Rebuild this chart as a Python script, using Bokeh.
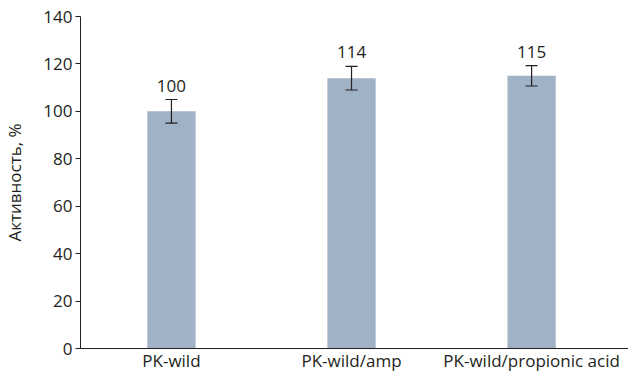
from bokeh.plotting import figure
from bokeh.models import ColumnDataSource, Whisker, FixedTicker, Range1d, TeeHead
from bokeh.core.properties import value
from bokeh.embed import file_html
from bokeh.resources import INLINE

categories = ["PK-wild", "PK-wild/amp", "PK-wild/propionic acid"]
activity = [100, 114, 115]
error = [5, 5, 4.3]
labels = ["100", "114", "115"]
y_ticks = [0, 20, 40, 60, 80, 100, 120, 140]

FONT = "Open Sans"
TXT = "#231f20"

xs = list(range(len(categories)))
src = ColumnDataSource(data=dict(
    x=xs,
    top=activity,
    upper=[a + e for a, e in zip(activity, error)],
    lower=[a - e for a, e in zip(activity, error)],
    label=labels,
))

p = figure(width=628, height=374, output_backend="svg", toolbar_location=None,
           x_range=Range1d(-0.505, 2.538), y_range=Range1d(0, 140),
           min_border_left=71, min_border_top=16, min_border_right=0, min_border_bottom=0)

p.vbar(x="x", top="top", width=0.268, bottom=0, source=src,
       fill_color="#a0b2c6", line_color=None)

w = Whisker(source=src, base="x", upper="upper", lower="lower",
            line_color="#231f20", line_width=1.2, level="overlay")
w.upper_head = TeeHead(size=12, line_color="#231f20", line_width=1.2)
w.lower_head = TeeHead(size=12, line_color="#231f20", line_width=1.2)
p.add_layout(w)

p.text(x="x", y="upper", text="label", source=src, text_align="center",
       text_baseline="bottom", y_offset=-8, text_font=value(FONT),
       text_font_size="17px", text_color=TXT)

p.grid.visible = False
p.outline_line_color = None
p.background_fill_color = "white"
p.border_fill_color = "white"

p.xaxis.ticker = FixedTicker(ticks=xs)
p.xaxis.major_label_overrides = {i: c for i, c in zip(xs, categories)}
p.xaxis.major_tick_line_color = None
p.xaxis.minor_tick_line_color = None
p.xaxis.major_tick_out = 0
p.xaxis.major_tick_in = 0
p.xaxis.major_label_standoff = 0
p.xaxis.axis_label_standoff = 0
p.xaxis.major_label_text_line_height = 0.9
p.xaxis.axis_line_color = "#231f20"

p.yaxis.ticker = FixedTicker(ticks=y_ticks)
p.yaxis.major_tick_in = 0
p.yaxis.major_tick_out = 5
p.yaxis.minor_tick_line_color = None
p.yaxis.major_label_standoff = 3
p.yaxis.axis_line_color = "#231f20"
p.yaxis.major_tick_line_color = "#231f20"
p.yaxis.axis_label = "Активность, %"
p.yaxis.axis_label_standoff = 14
p.yaxis.axis_label_text_font_style = "normal"

for ax in (p.xaxis, p.yaxis):
    ax.major_label_text_font = FONT
    ax.major_label_text_font_size = "17px"
    ax.major_label_text_color = TXT
    ax.axis_label_text_font = FONT
    ax.axis_label_text_font_size = "17px"
    ax.axis_label_text_color = TXT

open("out.html", "w").write(file_html(p, INLINE))
